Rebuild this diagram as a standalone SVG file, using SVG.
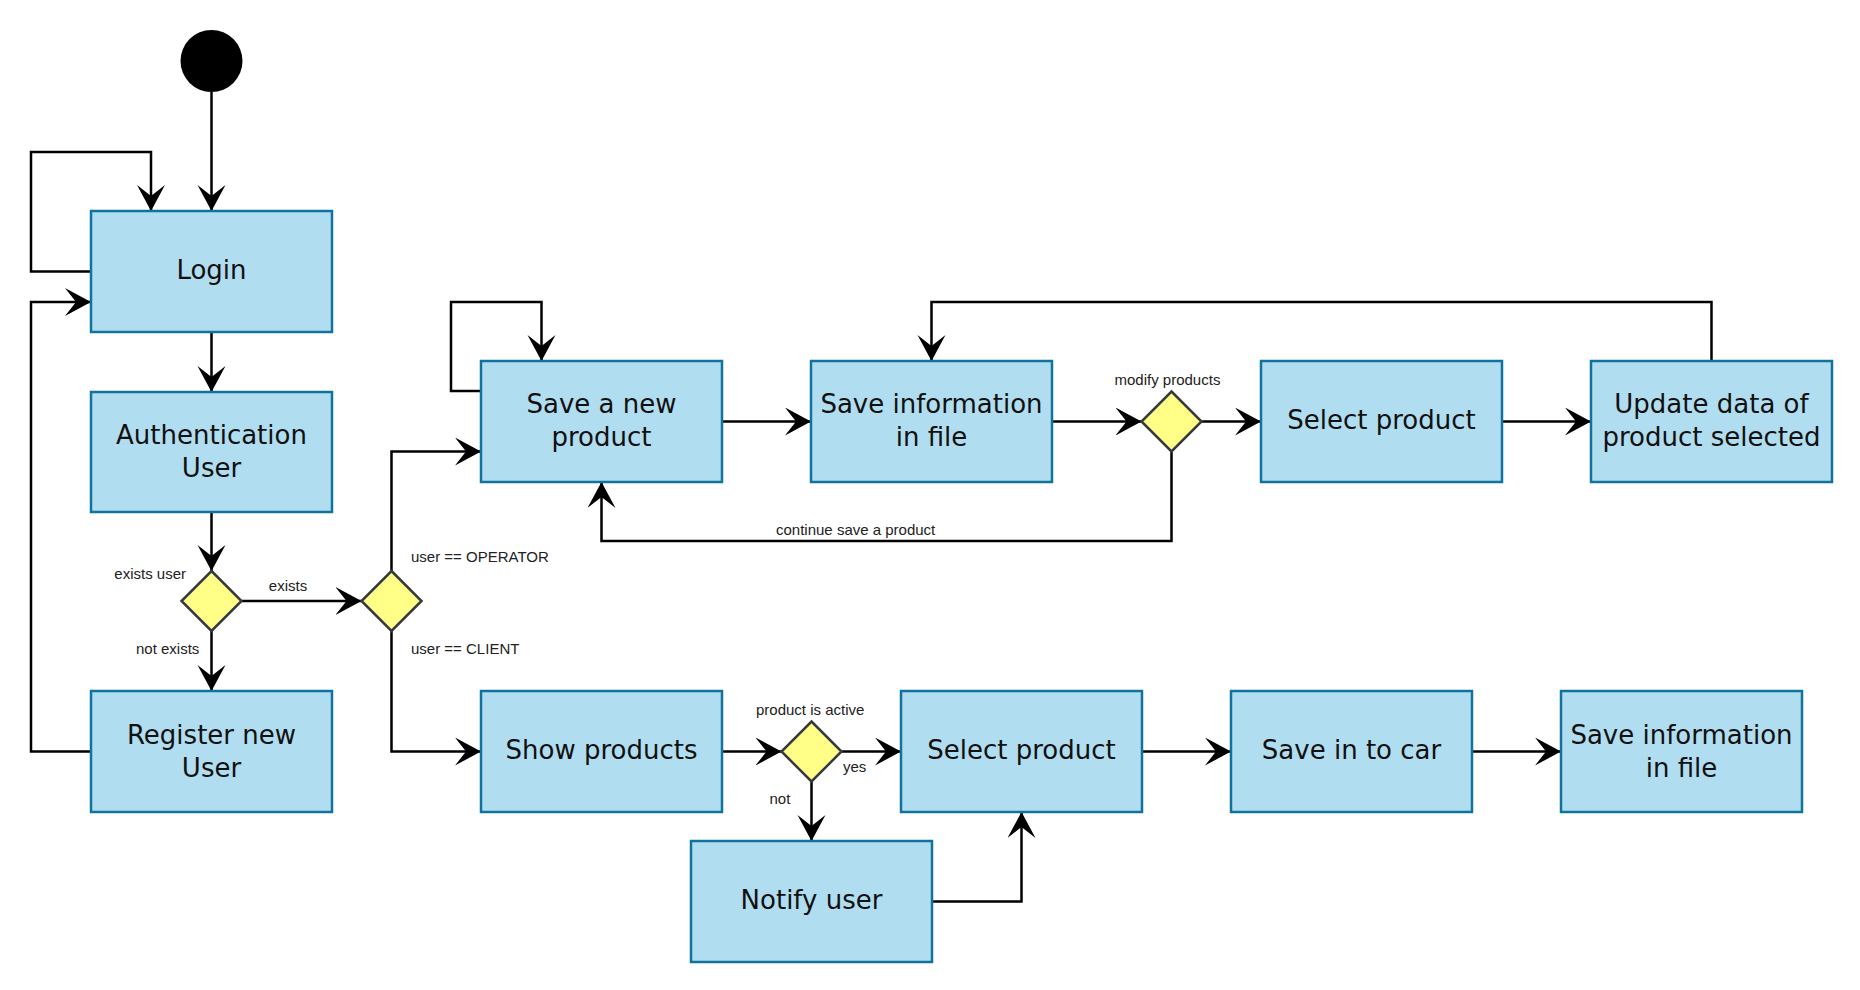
<svg xmlns="http://www.w3.org/2000/svg" width="1860" height="990" viewBox="0 0 1860 990">
<style>
.box{fill:#b1ddf0;stroke:#10739e;stroke-width:2.5}
.dia{fill:#ffff88;stroke:#36393d;stroke-width:2.5}
.t{font-family:"DejaVu Sans",sans-serif;font-size:26px;fill:#111;text-anchor:middle}
.lbl{font-family:"Liberation Sans",Arial,sans-serif;font-size:15px;fill:#222}
.c{fill:none;stroke:#000;stroke-width:2.5;marker-end:url(#arr)}
</style>
<defs>
<marker id="arr" markerUnits="userSpaceOnUse" markerWidth="30" markerHeight="30" refX="26" refY="14" orient="auto" viewBox="0 0 30 30">
<path d="M0,0 L26,14 L0,28 L11,14 Z" fill="#000"/>
</marker>
</defs>
<rect width="1860" height="990" fill="#fff"/>
<g id="connectors">
<path class="c" d="M211.5,92 V211"/>
<path class="c" d="M91,271.5 H31 V152 H151 V211"/>
<path class="c" d="M211.5,332 V392"/>
<path class="c" d="M211.5,512 V571"/>
<path class="c" d="M241.5,601 H361.5"/>
<path class="c" d="M211.5,631 V691"/>
<path class="c" d="M91,751.5 H31 V302 H91"/>
<path class="c" d="M391.5,571 V451.5 H481"/>
<path class="c" d="M391.5,631 V751.5 H481"/>
<path class="c" d="M481,391 H451 V302 H541.5 V361"/>
<path class="c" d="M722,421.5 H811"/>
<path class="c" d="M1052,421.5 H1141.5"/>
<path class="c" d="M1201.5,421.5 H1261"/>
<path class="c" d="M1171.5,451.5 V541 H601.5 V482"/>
<path class="c" d="M1502,421.5 H1591"/>
<path class="c" d="M1711.5,361 V302 H931.5 V361"/>
<path class="c" d="M722,751.5 H781.5"/>
<path class="c" d="M841.5,751.5 H901"/>
<path class="c" d="M811.5,781 V841"/>
<path class="c" d="M932,901.5 H1021.5 V812"/>
<path class="c" d="M1142,751.5 H1231"/>
<path class="c" d="M1472,751.5 H1561"/>
<text class="lbl" x="186" y="579" text-anchor="end">exists user</text>
<text class="lbl" x="288" y="591" text-anchor="middle">exists</text>
<text class="lbl" x="136" y="654">not exists</text>
<text class="lbl" x="411" y="562">user == OPERATOR</text>
<text class="lbl" x="411" y="654">user == CLIENT</text>
<text class="lbl" x="776" y="535">continue save a product</text>
<text class="lbl" x="1114.5" y="385">modify products</text>
<text class="lbl" x="756" y="715">product is active</text>
<text class="lbl" x="843" y="772">yes</text>
<text class="lbl" x="769.5" y="804">not</text>
</g>
<g id="start"><circle cx="211.5" cy="61" r="31" fill="#000"/></g>
<g id="login"><rect class="box" x="91" y="211" width="241" height="121"/><text class="t" x="211.5" y="278.5">Login</text></g>
<g id="auth"><rect class="box" x="91" y="392" width="241" height="120"/><text class="t" x="211.5" y="444">Authentication</text><text class="t" x="211.5" y="477">User</text></g>
<g id="register"><rect class="box" x="91" y="691" width="241" height="121"/><text class="t" x="211.5" y="743.5">Register new</text><text class="t" x="211.5" y="776.5">User</text></g>
<g id="d1"><path class="dia" d="M211.5,571 L241.5,601 L211.5,631 L181.5,601 Z"/></g>
<g id="d2"><path class="dia" d="M391.5,571 L421.5,601 L391.5,631 L361.5,601 Z"/></g>
<g id="saveNew"><rect class="box" x="481" y="361" width="241" height="121"/><text class="t" x="601.5" y="413">Save a new</text><text class="t" x="601.5" y="446">product</text></g>
<g id="saveInfo1"><rect class="box" x="811" y="361" width="241" height="121"/><text class="t" x="931.5" y="413">Save information</text><text class="t" x="931.5" y="446">in file</text></g>
<g id="d3"><path class="dia" d="M1171.5,391.5 L1201.5,421.5 L1171.5,451.5 L1141.5,421.5 Z"/></g>
<g id="select1"><rect class="box" x="1261" y="361" width="241" height="121"/><text class="t" x="1381.5" y="428.5">Select product</text></g>
<g id="update"><rect class="box" x="1591" y="361" width="241" height="121"/><text class="t" x="1711.5" y="413">Update data of</text><text class="t" x="1711.5" y="446">product selected</text></g>
<g id="show"><rect class="box" x="481" y="691" width="241" height="121"/><text class="t" x="601.5" y="758.5">Show products</text></g>
<g id="d4"><path class="dia" d="M811.5,721.5 L841.5,751.5 L811.5,781.5 L781.5,751.5 Z"/></g>
<g id="select2"><rect class="box" x="901" y="691" width="241" height="121"/><text class="t" x="1021.5" y="758.5">Select product</text></g>
<g id="saveCar"><rect class="box" x="1231" y="691" width="241" height="121"/><text class="t" x="1351.5" y="758.5">Save in to car</text></g>
<g id="saveInfo2"><rect class="box" x="1561" y="691" width="241" height="121"/><text class="t" x="1681.5" y="743.5">Save information</text><text class="t" x="1681.5" y="776.5">in file</text></g>
<g id="notify"><rect class="box" x="691" y="841" width="241" height="121"/><text class="t" x="811.5" y="908.5">Notify user</text></g>
</svg>
